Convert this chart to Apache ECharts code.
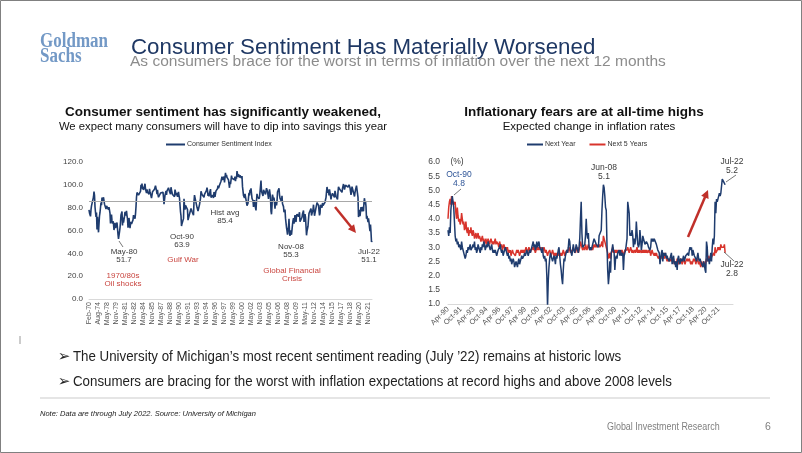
<!DOCTYPE html>
<html><head><meta charset="utf-8">
<script src="https://cdn.jsdelivr.net/npm/echarts@6/dist/echarts.min.js"></script>
<style>html,body{margin:0;padding:0;background:#fff}#c{width:802px;height:453px}</style>
</head><body><div id="c"></div>
<script>
// ---------- category helpers ----------
const MONTHS = ['Jan','Feb','Mar','Apr','May','Jun','Jul','Aug','Sep','Oct','Nov','Dec'];
function monthSeq(y, m, count, step) {
  const out = [];
  for (let i = 0; i < count; i++) {
    out.push(MONTHS[m] + '-' + String(y % 100).padStart(2, '0'));
    m += step; while (m >= 12) { m -= 12; y++; }
  }
  return out;
}
// quarterly Feb-70..Nov-77, then monthly Jan-78..Jul-22
const sentimentCategories = monthSeq(1970, 1, 32, 3).concat(monthSeq(1978, 0, 535, 1));
// monthly Apr-90 onward (axis runs a little past the last reading)
const inflationCategories = monthSeq(1990, 3, 399, 1);
const labelStep = 18;

// ---------- data ----------
const sentimentIndex = [
 78.1,75.4,77.1,72.4, 78.2,81.6,82.4,82.2, 87.5,89.3,94.0,90.8, 80.8,76.0,71.8,75.7,
 60.9,72.0,64.5,58.4, 58.0,72.9,75.8,75.4, 84.5,82.2,88.8,86.0, 87.5,89.1,87.6,83.1,
 83.7,84.3,78.8,81.6,82.9,80.0,82.4,78.4,80.4,79.3,75.0,66.1,
 72.1,73.9,68.4,66.0,68.1,65.8,60.4,64.5,66.7,62.1,63.3,61.0,
 67.0,66.9,56.5,52.7,51.7,58.7,62.3,67.3,73.7,75.0,76.7,64.5,
 71.4,66.9,66.5,72.4,76.3,73.1,74.1,77.2,73.1,70.3,62.5,64.3,
 71.0,66.5,62.0,65.5,67.5,65.7,65.4,65.4,69.3,73.4,72.1,71.9,
 70.4,74.6,80.8,89.1,93.3,92.2,92.8,90.9,89.9,89.3,91.1,94.2,
 100.1,97.4,101.0,96.1,98.1,95.5,96.6,99.1,100.9,96.3,95.7,92.9,
 96.0,93.7,93.7,94.6,91.8,96.5,94.0,92.4,92.1,88.4,90.9,93.9,
 95.6,95.9,95.1,96.2,94.8,99.3,97.7,94.9,91.9,95.6,91.4,89.1,
 90.4,90.2,90.8,92.8,91.1,91.5,93.7,94.4,93.6,89.3,83.1,86.8,
 90.8,91.6,94.6,91.2,94.8,94.7,93.4,97.4,97.3,94.1,93.0,91.9,
 97.9,95.4,94.3,91.5,90.7,90.6,92.0,89.6,95.8,93.9,90.9,90.5,
 93.0,89.5,91.3,93.9,90.6,88.3,88.2,76.4,72.8,63.9,66.0,65.5,
 66.8,70.4,87.7,81.8,78.3,82.1,82.9,82.0,83.0,78.3,69.1,68.2,
 67.5,68.8,76.0,77.2,79.2,80.4,76.6,76.1,75.6,73.3,85.3,91.0,
 89.3,86.6,85.9,85.6,80.3,81.5,77.0,77.3,77.9,82.7,81.2,88.2,
 94.3,93.2,91.5,92.6,92.8,91.2,89.0,91.7,91.5,92.7,91.6,95.1,
 97.6,95.1,90.3,92.5,89.8,92.7,94.4,96.2,88.9,90.2,88.2,91.0,
 89.3,88.5,93.7,92.7,89.4,92.4,94.7,95.3,94.7,96.5,99.2,96.9,
 97.4,99.7,100.0,101.4,103.2,104.5,107.1,104.4,106.0,105.6,107.2,102.1,
 106.6,110.4,106.5,108.7,106.5,105.6,105.2,104.4,100.9,97.4,102.7,100.5,
 103.9,108.1,105.7,104.6,106.8,107.3,106.0,104.5,107.2,103.2,107.2,105.4,
 112.0,111.3,107.1,109.2,110.7,106.4,108.3,107.3,106.8,105.8,107.6,98.4,
 94.7,90.6,91.5,88.4,92.0,92.6,92.4,91.5,81.8,82.7,83.9,88.8,
 93.0,90.7,95.7,93.0,96.9,92.4,88.1,87.6,86.1,80.6,84.2,86.7,
 82.4,79.9,77.6,86.0,92.1,89.7,90.9,89.3,87.7,89.6,93.7,92.6,
 103.8,94.4,95.8,94.2,90.2,95.6,96.7,95.9,94.2,91.7,92.8,97.1,
 95.5,94.1,92.6,87.7,86.9,96.0,96.5,89.1,76.9,74.2,81.6,91.5,
 91.2,86.7,88.9,87.4,79.1,84.9,84.7,82.0,85.4,93.6,92.1,91.7,
 96.9,91.3,88.4,87.1,88.3,85.3,90.4,83.4,83.4,80.9,76.1,75.5,
 78.4,70.8,69.5,62.6,59.8,56.4,61.2,63.0,70.3,57.6,55.3,60.1,
 61.2,56.3,57.3,65.1,68.7,70.8,66.0,65.7,73.5,70.6,67.4,72.5,
 74.4,73.6,73.6,72.2,73.6,76.0,67.8,68.9,68.2,67.7,71.6,74.5,
 74.2,77.5,67.5,69.8,74.3,71.5,63.7,55.8,59.5,60.8,63.7,69.9,
 75.0,75.3,76.2,76.4,79.3,73.2,72.3,74.3,78.3,82.6,82.7,72.9,
 73.8,77.6,78.6,76.4,84.5,84.1,85.1,82.1,77.5,73.2,75.1,82.5,
 81.2,81.6,80.0,84.1,81.9,82.5,81.8,82.5,84.6,86.9,88.8,93.6,
 98.1,95.4,93.0,95.9,90.7,96.1,93.1,91.9,87.2,90.0,91.3,92.6,
 92.0,91.7,91.0,89.0,94.7,93.5,90.0,89.8,91.2,87.2,93.8,98.2,
 98.5,96.3,96.9,97.0,97.1,95.0,93.4,96.8,95.1,100.7,98.5,95.9,
 95.7,99.7,101.4,98.8,98.0,98.2,97.9,96.2,100.1,98.6,97.5,98.3,
 91.2,93.8,98.4,97.2,100.0,98.2,98.4,89.8,93.2,95.5,96.8,99.3,
 99.8,101.0,89.1,71.8,72.3,78.1,72.5,74.1,80.4,81.8,76.9,80.7,
 79.0,76.8,84.9,88.3,82.9,85.5,81.2,70.3,72.8,71.7,67.4,70.6,
 67.2,62.8,59.4,65.2,58.4,50.0,51.1
];
const histAvg = 85.4;

const nextYear = [
 3.6,3.4,3.7,3.5,4.3,4.6,4.8,4.6,4.4,
 3.9,3.4,3.2,3.3,3.1,3.2,3.0,3.1,3.0,2.9,3.2,3.0,
 2.9,2.8,2.8,2.6,2.7,2.9,2.8,3.0,2.9,3.0,3.1,2.9,
 2.9,3.0,3.1,3.0,3.2,2.9,3.0,2.8,2.9,3.1,3.0,2.9,
 2.8,3.0,2.9,3.1,3.0,3.2,3.1,2.9,3.0,3.1,3.0,3.2,
 3.1,3.0,2.9,3.0,3.1,2.9,2.8,2.9,2.8,2.9,2.8,2.7,
 2.8,2.9,2.9,3.0,3.1,2.9,2.8,2.9,2.7,2.8,2.9,3.0,
 2.9,2.8,2.7,2.8,2.6,2.7,2.5,2.6,2.4,2.5,2.6,2.5,
 2.3,2.4,2.5,2.4,2.3,2.5,2.6,2.4,2.5,2.6,2.7,2.6,
 2.6,2.7,2.8,2.7,2.8,2.9,2.8,2.7,2.8,2.9,2.8,2.9,
 3.0,3.1,3.2,3.0,3.1,2.9,3.0,3.2,3.0,3.1,3.2,3.0,
 3.0,2.9,2.8,3.0,2.7,2.6,2.7,2.5,2.6,2.0,0.9,1.8,
 2.3,2.6,2.8,2.7,2.6,2.5,2.6,2.7,2.6,2.4,2.7,2.6,
 2.6,2.9,3.0,2.7,2.4,2.2,1.9,1.7,2.2,2.6,2.5,2.7,
 2.8,2.9,2.8,3.0,3.3,3.2,2.9,2.8,2.7,2.9,3.1,2.9,
 2.8,2.9,3.1,3.1,2.9,2.8,3.0,3.3,4.0,4.6,3.5,3.0,
 3.0,3.0,3.1,3.4,4.0,3.5,3.3,3.5,3.0,2.9,3.0,2.9,
 3.0,3.1,3.2,3.3,3.3,3.3,3.1,3.1,3.1,3.0,3.4,3.4,
 3.4,3.6,4.3,4.8,5.2,5.1,4.8,4.4,4.3,3.1,2.2,1.7,
 2.0,2.5,2.1,2.8,2.9,3.1,2.9,2.8,2.2,2.6,2.7,2.6,
 2.8,2.8,2.9,2.7,2.9,2.7,2.7,2.8,2.2,2.7,2.8,2.9,
 3.1,3.3,4.6,4.6,4.2,3.4,3.5,3.4,3.6,3.4,3.0,3.3,
 3.1,3.3,3.9,3.5,3.1,3.0,3.1,3.6,3.3,2.9,3.1,3.4,
 3.4,3.2,3.1,3.1,3.2,3.2,3.1,3.0,3.0,2.9,3.0,3.3,
 3.2,3.3,3.2,3.3,3.3,3.3,3.1,3.0,2.9,2.9,2.8,2.4,
 2.6,2.8,2.9,2.5,2.8,2.8,2.7,2.8,2.6,2.7,2.6,2.6,
 2.5,2.5,2.7,2.8,2.4,2.4,2.7,2.4,2.5,2.3,2.5,2.2,
 2.6,2.7,2.5,2.4,2.6,2.6,2.5,2.6,2.7,2.5,2.6,2.7,
 2.7,2.7,2.8,2.7,2.9,3.0,2.9,3.0,2.7,2.9,2.8,2.7,
 2.7,2.6,2.5,2.5,2.8,2.6,2.5,2.6,2.5,2.5,2.5,2.3,
 2.5,2.4,2.2,2.1,3.2,3.0,2.5,2.6,2.4,2.6,2.8,2.5,
 3.0,3.3,3.1,3.4,4.6,4.2,4.7,4.6,4.6,4.8,4.9,4.8,
 4.9,4.9,5.4,5.4,5.3,5.3,5.2
];
const next5Years = [
 4.0,4.4,4.6,4.7,4.5,4.8,4.7,4.5,4.6,
 4.5,4.6,4.2,4.0,4.4,4.1,3.9,4.0,3.8,3.9,4.2,4.0,
 3.8,3.9,3.6,3.7,3.9,3.6,3.5,3.7,3.4,3.6,3.5,3.7,
 3.5,3.4,3.6,3.5,3.3,3.4,3.5,3.3,3.4,3.5,3.3,3.4,
 3.3,3.2,3.3,3.4,3.2,3.3,3.1,3.2,3.3,3.1,3.2,3.3,
 3.2,3.1,3.2,3.3,3.2,3.1,3.2,3.1,3.2,3.3,3.1,3.2,
 3.2,3.1,3.0,3.2,3.1,3.0,3.1,2.9,3.0,3.1,3.0,2.9,
 3.0,2.9,3.0,2.8,2.9,2.8,2.9,2.7,2.8,2.9,2.8,2.8,
 2.8,2.7,2.8,2.9,2.8,2.9,2.8,2.7,2.8,2.9,2.8,2.9,
 2.8,2.9,2.8,2.9,3.0,2.9,2.8,2.9,3.0,2.9,2.8,2.9,
 2.9,3.0,2.9,3.0,2.9,2.8,2.9,3.0,2.9,3.0,2.9,3.0,
 2.9,3.0,2.9,2.8,2.9,3.0,2.9,2.8,2.9,2.8,2.7,2.8,
 2.8,2.9,2.8,2.7,2.8,2.9,2.8,2.7,2.8,2.7,2.8,2.7,
 2.7,2.8,2.7,2.8,2.7,2.8,2.7,2.8,2.9,2.8,2.7,2.8,
 2.8,2.9,2.8,2.9,3.0,2.9,2.8,2.9,2.8,2.9,3.0,2.9,
 2.9,2.8,2.9,3.0,2.9,2.8,2.9,3.0,3.2,3.1,3.0,2.9,
 2.9,3.0,2.9,3.1,3.0,2.9,3.0,3.1,3.0,2.9,3.0,2.9,
 3.0,2.9,3.0,3.1,3.0,3.1,3.0,3.1,3.0,3.0,3.1,3.0,
 3.0,3.1,3.2,3.0,3.4,3.3,3.2,3.1,3.0,2.9,2.8,2.6,
 2.7,2.8,2.6,2.8,2.9,3.0,2.8,2.9,2.8,2.9,2.8,2.9,
 2.9,2.8,2.9,2.8,2.9,2.8,2.9,2.8,2.7,2.8,2.9,2.9,
 2.9,2.9,3.0,2.9,2.8,2.9,3.0,2.9,2.8,2.9,2.8,2.8,
 2.9,2.8,2.9,3.0,2.8,2.9,2.8,2.9,2.9,2.8,2.9,2.8,
 2.9,2.8,2.9,2.8,2.9,2.8,2.8,2.9,2.8,2.9,2.7,2.8,
 2.9,2.8,2.8,2.7,2.8,2.7,2.8,2.7,2.7,2.6,2.7,2.7,
 2.6,2.7,2.6,2.7,2.7,2.6,2.8,2.7,2.6,2.5,2.6,2.5,
 2.6,2.5,2.6,2.5,2.6,2.5,2.6,2.4,2.5,2.5,2.4,2.6,
 2.5,2.4,2.5,2.5,2.6,2.5,2.4,2.5,2.6,2.5,2.4,2.5,
 2.5,2.6,2.5,2.5,2.6,2.6,2.4,2.5,2.4,2.5,2.6,2.5,
 2.6,2.4,2.5,2.6,2.5,2.4,2.5,2.4,2.3,2.5,2.4,2.3,
 2.5,2.4,2.3,2.5,2.6,2.5,2.7,2.6,2.5,2.7,2.6,2.6,
 2.7,2.7,2.8,2.7,3.0,2.8,2.8,2.9,3.0,2.9,3.0,2.9,
 3.1,3.0,3.0,3.0,3.0,3.1,2.8
];

// ---------- styling ----------
const NAVY = '#1f3c6e', RED = '#d8342c', ANN_RED = '#c9453f', TXT = '#3a3a3a';
const SANS = '"Liberation Sans", Arial, sans-serif';

function T(text, x, y, o) {
  o = o || {};
  return {
    type: 'text', x: x, y: y, scaleX: o.sx || 1, scaleY: o.sy || 1, silent: true, z: 100,
    style: {
      text: text, x: 0, y: 0, fill: o.fill || TXT,
      fontSize: o.size || 8, fontFamily: o.family || SANS,
      fontWeight: o.weight || 'normal', fontStyle: o.style || 'normal',
      align: o.align || 'center', textAlign: o.align || 'center',
      verticalAlign: 'middle', textVerticalAlign: 'middle',
      lineHeight: o.lh || undefined
    }
  };
}
function L(x1, y1, x2, y2, color, w) {
  return { type: 'line', silent: true, z: 100, shape: { x1, y1, x2, y2 }, style: { stroke: color, lineWidth: w || 1 } };
}
function arrow(x1, y1, x2, y2, color, w, hl, hw) {
  const dx = x2 - x1, dy = y2 - y1, len = Math.hypot(dx, dy), ux = dx / len, uy = dy / len;
  const bx = x2 - ux * hl, by = y2 - uy * hl, px = -uy * hw, py = ux * hw;
  return [
    L(x1, y1, bx + ux, by + uy, color, w),
    { type: 'polygon', silent: true, z: 100, shape: { points: [[x2, y2], [bx + px, by + py], [bx - px, by - py]] }, style: { fill: color } }
  ];
}

const graphics = [
  { type: 'rect', silent: true, shape: { x: 0.5, y: 0.5, width: 801, height: 452 }, style: { fill: 'none', stroke: '#808080', lineWidth: 1 } },
  // logo
  T('Goldman', 40, 41, { family: '"Liberation Serif", serif', weight: 'bold', size: 20, fill: '#7399c6', align: 'left', sx: 0.85, sy: 1.1 }),
  T('Sachs', 40, 56, { family: '"Liberation Serif", serif', weight: 'bold', size: 20, fill: '#7399c6', align: 'left', sx: 0.85, sy: 1.1 }),
  // headline
  T('Consumer Sentiment Has Materially Worsened', 131, 48, { size: 22.3, fill: '#1f3864', align: 'left' }),
  T('As consumers brace for the worst in terms of inflation over the next 12 months', 130, 62, { size: 15.5, fill: '#8c8c8c', align: 'left' }),
  // panel titles
  T('Consumer sentiment has significantly weakened,', 223, 112, { size: 13.5, weight: 'bold', fill: '#111' }),
  T('We expect many consumers will have to dip into savings this year', 223, 127, { size: 11.3, fill: '#111' }),
  T('Inflationary fears are at all-time highs', 584, 112, { size: 13.5, weight: 'bold', fill: '#111' }),
  T('Expected change in inflation rates', 589, 127, { size: 11.5, fill: '#111' }),
  // left annotations
  T('May-80\n51.7', 124, 256, { size: 8, lh: 8 }),
  T('Oct-90\n63.9', 182, 241, { size: 8, lh: 8 }),
  T('Hist avg\n85.4', 225, 217, { size: 8, lh: 8 }),
  T('Nov-08\n55.3', 291, 251, { size: 8, lh: 8 }),
  T('Jul-22\n51.1', 369, 256, { size: 8, lh: 8 }),
  T('1970/80s\nOil shocks', 123, 280, { size: 8, lh: 8, fill: ANN_RED }),
  T('Gulf War', 183, 260, { size: 8, fill: ANN_RED }),
  T('Global Financial\nCrisis', 292, 275, { size: 8, lh: 8, fill: ANN_RED }),
  L(119, 241, 123, 247, '#555', 0.8),
  // right annotations
  T('(%)', 457, 162, { size: 8.5 }),
  T('Oct-90\n4.8', 459, 179, { size: 8.5, lh: 8.5, fill: '#2f5597' }),
  L(461, 189, 454, 195, '#555', 0.8),
  T('Jun-08\n5.1', 604, 172, { size: 8.5, lh: 9 }),
  T('Jul-22\n5.2', 732, 166, { size: 8.5, lh: 8.5 }),
  L(726, 182, 736, 175, '#555', 0.8),
  T('Jul-22\n2.8', 732, 269, { size: 8.5, lh: 8.5 }),
  L(724, 252, 734, 261, '#555', 0.8),
  // bullets
  T('\u27A2', 64, 357, { size: 15, family: '"DejaVu Sans", sans-serif', fill: '#222' }),
  T('The University of Michigan\u2019s most recent sentiment reading (July \u201922) remains at historic lows', 73, 357, { size: 14, fill: '#222', align: 'left', sx: 0.95 }),
  T('\u27A2', 64, 382, { size: 15, family: '"DejaVu Sans", sans-serif', fill: '#222' }),
  T('Consumers are bracing for the worst with inflation expectations at record highs and above 2008 levels', 73, 382, { size: 14, fill: '#222', align: 'left', sx: 0.95 }),
  L(40, 398, 770, 398, '#dcdcdc', 1.5),
  T('Note: Data are through July 2022. Source: University of Michigan', 40, 414, { size: 7.5, style: 'italic', fill: '#222', align: 'left' }),
  T('Global Investment Research', 607, 427, { size: 10.5, fill: '#808080', align: 'left', sx: 0.85 }),
  T('6', 765, 427, { size: 10.5, fill: '#808080', align: 'left' }),
  L(20, 336, 20, 344, '#999', 1)
].concat(arrow(335, 207, 356, 233, '#c0302a', 2.5, 8, 4)).concat(arrow(688, 237, 708, 190, '#c0302a', 2.5, 8, 4));

const axisLabelBase = { color: '#444', fontFamily: SANS };
const lastInflationIdx = nextYear.length - 1;

const option = {
  animation: false,
  backgroundColor: '#fff',
  textStyle: { fontFamily: SANS },
  legend: [
    { data: ['Consumer Sentiment Index'], left: 166, top: 141, icon: 'rect', itemWidth: 19, itemHeight: 2,
      textStyle: { fontSize: 7, color: '#333', padding: [0, 0, 0, -3] }, padding: 0 },
    { data: ['Next Year', 'Next 5 Years'], left: 527, top: 141, icon: 'rect', itemWidth: 16, itemHeight: 2, itemGap: 14,
      textStyle: { fontSize: 7, color: '#333', padding: [0, 0, 0, -3] }, padding: 0 }
  ],
  grid: [
    { left: 89, top: 162, width: 283, height: 137 },
    { left: 448, top: 162, width: 285, height: 142 }
  ],
  xAxis: [
    { type: 'category', gridIndex: 0, data: sentimentCategories, boundaryGap: false,
      axisLine: { lineStyle: { color: '#d9d9d9' } }, axisTick: { show: false },
      axisLabel: { interval: labelStep - 1, rotate: 90, fontSize: 7, margin: 3, color: '#555', fontFamily: SANS } },
    { type: 'category', gridIndex: 1, data: inflationCategories, boundaryGap: false,
      axisLine: { lineStyle: { color: '#d9d9d9' } }, axisTick: { show: false },
      axisLabel: { interval: (i) => i % labelStep === 0 && i <= lastInflationIdx, rotate: 45, fontSize: 7.5, margin: 4, color: '#555', fontFamily: SANS } }
  ],
  yAxis: [
    { type: 'value', gridIndex: 0, min: 0, max: 120, interval: 20, splitLine: { show: false },
      axisLine: { show: false }, axisTick: { show: false },
      axisLabel: Object.assign({ fontSize: 8, margin: 6, formatter: v => v.toFixed(1) }, axisLabelBase) },
    { type: 'value', gridIndex: 1, min: 1, max: 6, interval: 0.5, splitLine: { show: false },
      axisLine: { show: false }, axisTick: { show: false },
      axisLabel: Object.assign({ fontSize: 8.5, margin: 8, formatter: v => v.toFixed(1) }, axisLabelBase) }
  ],
  series: [
    { name: 'Consumer Sentiment Index', type: 'line', xAxisIndex: 0, yAxisIndex: 0, data: sentimentIndex,
      showSymbol: false, lineStyle: { color: NAVY, width: 1.6 }, itemStyle: { color: NAVY },
      markLine: { silent: true, symbol: 'none', label: { show: false },
        lineStyle: { color: '#a8a8a8', type: 'solid', width: 1 }, data: [{ yAxis: histAvg }] } },
    { name: 'Next 5 Years', type: 'line', xAxisIndex: 1, yAxisIndex: 1, data: next5Years,
      showSymbol: false, lineStyle: { color: RED, width: 1.5 }, itemStyle: { color: RED }, z: 2 },
    { name: 'Next Year', type: 'line', xAxisIndex: 1, yAxisIndex: 1, data: nextYear, clip: true,
      showSymbol: false, lineStyle: { color: NAVY, width: 1.5 }, itemStyle: { color: NAVY }, z: 3 }
  ],
  graphic: graphics
};

const chart = echarts.init(document.getElementById('c'), null, { renderer: 'canvas' });
chart.setOption(option);
</script>
</body></html>
